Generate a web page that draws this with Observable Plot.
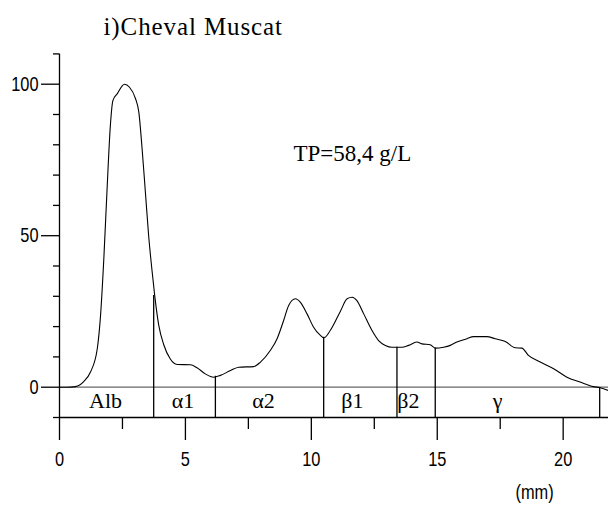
<!DOCTYPE html>
<html>
<head>
<meta charset="utf-8">
<script src="https://cdn.jsdelivr.net/npm/d3@7"></script>
<script src="https://cdn.jsdelivr.net/npm/@observablehq/plot@0.6"></script>
<style>
  html, body { margin: 0; padding: 0; background: #fff; }
</style>
</head>
<body>
<script>
// Densitometric scan (relative units) against migration distance (mm)
const scanX = [0, 0.3, 0.63, 0.97, 1.23, 1.5, 1.63, 1.76, 1.89, 2.02, 2.12, 2.29, 2.58, 2.78, 3.02, 3.15, 3.28, 3.41, 3.54, 3.68, 3.78, 3.94, 4.14, 4.40, 4.67, 5.2, 5.46, 5.79, 6.12, 6.39, 6.79, 7.12, 7.71, 7.98, 8.37, 8.64, 8.9, 9.1, 9.37, 9.56, 9.83, 10.09, 10.36, 10.5, 10.75, 11.15, 11.42, 11.62, 11.81, 12.08, 12.41, 12.67, 12.94, 13.2, 13.6, 13.86, 14.19, 14.39, 14.72, 14.92, 15.25, 15.52, 15.78, 16.18, 16.44, 16.97, 17.3, 17.7, 18.1, 18.36, 18.62, 19.09, 19.62, 20.15, 20.67, 21.2, 21.47, 21.79];
const scanY = [0, 0, 0.2, 1.9, 5, 12.7, 23.7, 42.4, 65.5, 86.4, 94.6, 96.8, 100, 99, 95.2, 90.8, 78.7, 64.4, 50, 38, 30.3, 20.5, 14, 9.3, 7.5, 7.4, 6.4, 4.4, 3.3, 3.9, 5.5, 6.6, 6.8, 8.3, 12.1, 16, 22, 27, 29.2, 28.1, 24.2, 19.8, 17.1, 16.3, 18.7, 25, 29.2, 29.7, 28.6, 24.2, 18.7, 15.4, 13.8, 13.2, 13.2, 13.8, 14.9, 14.3, 14.0, 12.9, 13.2, 13.8, 14.9, 16.0, 16.7, 16.7, 16.0, 15.1, 13.0, 12.9, 10.5, 8.3, 6.1, 3.3, 1.7, 0.2, -0.2, -1.1];

// Fraction boundaries (x, mm) and the curve height where each boundary meets it
const boundaryX = [3.74, 6.19, 10.49, 13.4, 14.92, 21.45];
const boundaryTop = [30.3, 3.6, 16.5, 13.2, 12.9, -0.2];

// Fraction names and where their labels sit (mm)
const fractionNames = ["Alb", "α1", "α2", "β1", "β2", "γ"];
const fractionLabelX = [1.83, 4.9, 8.1, 11.63, 13.85, 17.4];

// Axis ticks
const yMajorTicks = [0, 50, 100];
const yMinorTicks = [-10, 10, 20, 30, 40, 60, 70, 80, 90, 110];
const xMajorTicks = [0, 5, 10, 15, 20];
const xMinorTicks = [2.5, 7.5, 12.5, 17.5];

const titleText = "i)Cheval Muscat";
const noteText = "TP=58,4 g/L";
const unitText = "(mm)";

const curve = scanX.map((x, i) => ({x, y: scanY[i]}));
const boundaries = boundaryX.map((x, i) => ({x, top: boundaryTop[i]}));
const fractions = fractionNames.map((name, i) => ({name, x: fractionLabelX[i]}));

const serif = "'Liberation Serif', 'Times New Roman', serif";

const chart = Plot.plot({
  width: 608,
  height: 506,
  marginLeft: 59,
  marginRight: 0,
  marginTop: 53.4,
  marginBottom: 89,
  x: {domain: [0, 21.8]},
  y: {domain: [-10, 110]},
  style: {fontFamily: "'Liberation Sans', Arial, sans-serif", fontSize: "21px", background: "#fff", color: "#000"},
  marks: [
    // frame lines
    Plot.ruleY([0], {stroke: "#666", strokeWidth: 1.3}),
    Plot.ruleY([-10], {stroke: "#000", strokeWidth: 1.3}),
    Plot.ruleX([0], {y1: -10, y2: 110, stroke: "#000", strokeWidth: 1.3}),
    // y axis
    Plot.axisY({ticks: yMajorTicks, tickSize: 18, tickPadding: 3, label: null, fontSize: 21, strokeWidth: 1.3}),
    Plot.axisY({ticks: yMinorTicks, tickSize: 6, text: null, label: null, strokeWidth: 1.3}),
    // x axis
    Plot.axisX({ticks: xMajorTicks, tickSize: 23, tickPadding: 11, label: null, fontSize: 21, strokeWidth: 1.3}),
    Plot.axisX({ticks: xMinorTicks, tickSize: 12, text: null, label: null, strokeWidth: 1.3}),
    // fraction boundaries
    Plot.ruleX(boundaries, {x: "x", y1: -10, y2: "top", stroke: "#000", strokeWidth: 1.3}),
    // fraction labels
    Plot.text(fractions, {x: "x", y: -4.4, text: "name", fontFamily: serif, fontSize: 22, lineAnchor: "middle", fill: "#000"}),
    // scan curve
    Plot.line(curve, {x: "x", y: "y", curve: "monotone-x", stroke: "#000", strokeWidth: 1.1}),
    // title and annotations
    Plot.text([titleText], {frameAnchor: "top-left", dx: 44, dy: -36.9, lineAnchor: "top", textAnchor: "start", fontFamily: serif, fontSize: 25, fill: "#000"}),
    Plot.text([noteText], {frameAnchor: "top-left", dx: 234, dy: 91, lineAnchor: "top", textAnchor: "start", fontFamily: serif, fontSize: 23, fill: "#000"}),
    Plot.text([unitText], {frameAnchor: "top-left", dx: 456, dy: 430, lineAnchor: "top", textAnchor: "start", fontSize: 21, fill: "#000"})
  ]
});

document.body.append(chart);

// condense the sans-serif labels (narrow face in the original)
chart.querySelectorAll("text").forEach(t => {
  const ff = getComputedStyle(t).fontFamily;
  if (/Liberation Serif/i.test(ff)) {
    if (t.textContent === titleText) t.setAttribute("letter-spacing", "0.9");
    return;
  }
  const len = t.getComputedTextLength();
  if (len > 0) {
    t.setAttribute("textLength", (len * 0.78).toFixed(1));
    t.setAttribute("lengthAdjust", "spacingAndGlyphs");
  }
});
</script>
</body>
</html>
